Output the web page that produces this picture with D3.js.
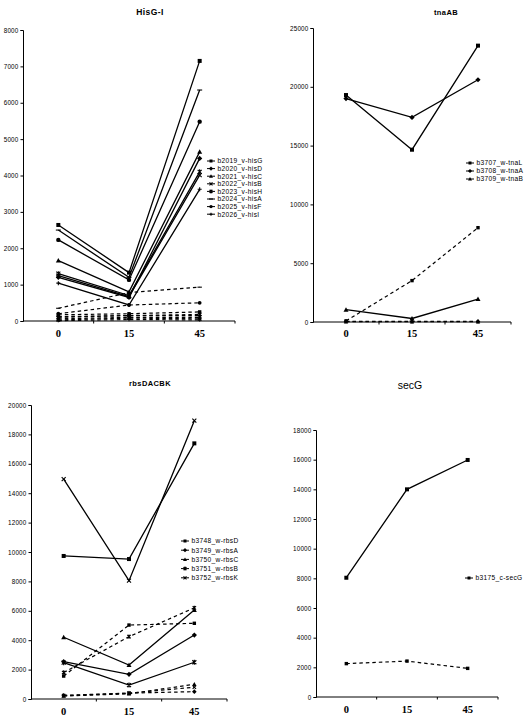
<!DOCTYPE html>
<html><head><meta charset="utf-8">
<script src="https://cdn.jsdelivr.net/npm/d3@7"></script>
<style>body{margin:0;background:#fff}svg{display:block}</style>
</head><body><svg id="c" width="526" height="716"></svg>
<script>
// ---------- DATA ----------
const timepoints = ["0", "15", "45"];

// HisG-I
const hisGenes   = ["b2019_v-hisG","b2020_v-hisD","b2021_v-hisC","b2022_v-hisB","b2023_v-hisH","b2024_v-hisA","b2025_v-hisF","b2026_v-hisI"];
const hisMarkers = ["square","diamond","triangle","x","asterisk","dash","circle","plus"];
const hisSolid   = [[2640,1330,7150],[1200,650,4470],[1660,800,4650],[1250,670,4010],[1300,700,4100],[2500,1200,6350],[2230,1130,5480],[1040,440,3620]];
const hisDashed  = [[170,200,250],[120,150,150],[60,100,100],[30,80,60],[100,150,180],[350,780,930],[200,440,500],[10,40,30]];
const hisTicks   = [0,1000,2000,3000,4000,5000,6000,7000,8000];

// tnaAB
const tnaGenes   = ["b3707_w-tnaL","b3708_w-tnaA","b3709_w-tnaB"];
const tnaMarkers = ["square","diamond","triangle"];
const tnaSolid   = [[19300,14650,23500],[19000,17400,20600],[1050,300,1950]];
const tnaDashed  = [[90,3520,8020],[60,50,50],[20,20,20]];
const tnaTicks   = [0,5000,10000,15000,20000,25000];

// rbsDACBK
const rbsGenes   = ["b3748_w-rbsD","b3749_w-rbsA","b3750_w-rbsC","b3751_w-rbsB","b3752_w-rbsK"];
const rbsMarkers = ["square","diamond","triangle","asterisk","x"];
const rbsSolid   = [[9730,9520,17390],[2540,1680,4350],[4200,2310,6050],[2470,950,2500],[14960,8050,18930]];
const rbsDashed  = [[1560,5030,5150],[250,400,500],[200,350,1000],[1800,4240,6200],[230,400,800]];
const rbsTicks   = [0,2000,4000,6000,8000,10000,12000,14000,16000,18000,20000];

// secG
const secGenes   = ["b3175_c-secG"];
const secMarkers = ["square"];
const secSolid   = [[8040,14000,15980]];
const secDashed  = [[2250,2420,1930]];
const secTicks   = [0,2000,4000,6000,8000,10000,12000,14000,16000,18000];

// ---------- DRAWING ----------
const svg = d3.select("#c");
svg.append("rect").attr("width",526).attr("height",716).attr("fill","#fff");

function drawMarker(g, type, x, y, s) {
  const h = s / 2;
  if (type === "square") {
    g.append("rect").attr("x", x-h).attr("y", y-h).attr("width", s).attr("height", s).attr("fill","#000");
  } else if (type === "diamond") {
    g.append("path").attr("d", `M${x},${y-h-0.6}L${x+h+0.6},${y}L${x},${y+h+0.6}L${x-h-0.6},${y}Z`).attr("fill","#000");
  } else if (type === "triangle") {
    g.append("path").attr("d", `M${x},${y-h-0.5}L${x+h+0.5},${y+h}L${x-h-0.5},${y+h}Z`).attr("fill","#000");
  } else if (type === "circle") {
    g.append("circle").attr("cx", x).attr("cy", y).attr("r", h+0.2).attr("fill","#000");
  } else {
    let d = "";
    if (type === "x") d = `M${x-h},${y-h}L${x+h},${y+h}M${x-h},${y+h}L${x+h},${y-h}`;
    if (type === "asterisk") d = `M${x-h},${y-h}L${x+h},${y+h}M${x-h},${y+h}L${x+h},${y-h}M${x},${y-h-0.5}L${x},${y+h+0.5}`;
    if (type === "plus") d = `M${x-h},${y}L${x+h},${y}M${x},${y-h}L${x},${y+h}`;
    if (type === "dash") d = `M${x-h-0.5},${y}L${x+h+0.5},${y}`;
    g.append("path").attr("d", d).attr("stroke","#000").attr("stroke-width",1.1).attr("fill","none");
  }
}

function drawPanel(cfg) {
  const g = svg.append("g");
  const x = d3.scaleBand().domain(timepoints).range([cfg.x0, cfg.x1]).padding(0);
  const y = d3.scaleLinear().domain([0, cfg.ticks[cfg.ticks.length-1]]).range([cfg.yBot, cfg.yTop]);
  const cx = t => x(t) + x.bandwidth()/2;

  // title
  g.append("text").attr("x", cfg.titleX).attr("y", cfg.titleY).attr("text-anchor","middle")
    .attr("font-family","'Liberation Sans', Arial, sans-serif").attr("font-weight", cfg.titleBold ? "bold" : "normal")
    .attr("font-size", cfg.titleSize).attr("letter-spacing", cfg.titleBold ? 0.4 : 0).attr("fill","#000").text(cfg.title);

  // y axis
  const yAxis = d3.axisLeft(y).tickValues(cfg.ticks).tickSize(2.5).tickPadding(2).tickFormat(d3.format("d"));
  const ya = g.append("g").attr("transform", `translate(${cfg.x0},0)`).call(yAxis);
  ya.select(".domain").attr("stroke","#000").attr("stroke-width",1);
  ya.selectAll(".tick line").attr("stroke","#000");
  ya.selectAll(".tick text").attr("font-family","'Liberation Sans', Arial, sans-serif").attr("font-size", 6.3).attr("letter-spacing", 0.2).attr("fill","#000");

  // x axis line with ticks at band boundaries
  g.append("line").attr("x1", cfg.x0).attr("x2", cfg.x1).attr("y1", cfg.yBot).attr("y2", cfg.yBot).attr("stroke","#000").attr("stroke-width",1);
  timepoints.forEach(t => {
    const bx = x(t) + x.bandwidth();
    g.append("line").attr("x1", bx).attr("x2", bx).attr("y1", cfg.yBot).attr("y2", cfg.yBot+2.5).attr("stroke","#000");
  });
  timepoints.forEach(t => {
    g.append("text").attr("x", cx(t)).attr("y", cfg.catY).attr("text-anchor","middle")
      .attr("font-family","'Liberation Serif', 'Times New Roman', serif").attr("font-weight","bold")
      .attr("font-size", 10.5).attr("fill","#000").text(t);
  });

  const line = d3.line().x((d,i) => cx(timepoints[i])).y(d => y(d));

  // dashed series
  cfg.dashed.forEach((vals, k) => {
    g.append("path").attr("d", line(vals)).attr("fill","none").attr("stroke","#000")
      .attr("stroke-width",1.2).attr("stroke-dasharray","3.5,3");
    vals.forEach((v,i) => drawMarker(g, cfg.markers[k], cx(timepoints[i]), y(v), 3.4));
  });
  // solid series
  cfg.solid.forEach((vals, k) => {
    g.append("path").attr("d", line(vals)).attr("fill","none").attr("stroke","#000").attr("stroke-width",1.3);
    vals.forEach((v,i) => drawMarker(g, cfg.markers[k], cx(timepoints[i]), y(v), 4));
  });

  // legend
  cfg.genes.forEach((name, k) => {
    const ly = cfg.legY + k * cfg.legStep;
    g.append("line").attr("x1", cfg.legX-4).attr("x2", cfg.legX+4).attr("y1", ly).attr("y2", ly).attr("stroke","#000").attr("stroke-width",1);
    drawMarker(g, cfg.markers[k], cfg.legX, ly, 3);
    g.append("text").attr("x", cfg.legX+6.5).attr("y", ly+2.3)
      .attr("font-family","'Liberation Sans', Arial, sans-serif").attr("font-size", 6.6).attr("letter-spacing", 0.35).attr("fill","#000").text(name);
  });
}

drawPanel({title:"HisG-I", titleX:150, titleY:15, titleSize:8.5, titleBold:true,
  x0:23, x1:235, yTop:30, yBot:321, catY:337, ticks:hisTicks,
  genes:hisGenes, markers:hisMarkers, solid:hisSolid, dashed:hisDashed,
  legX:211, legY:161, legStep:7.6});

drawPanel({title:"tnaAB", titleX:446, titleY:15, titleSize:7.5, titleBold:true,
  x0:313, x1:511, yTop:28, yBot:322, catY:337, ticks:tnaTicks,
  genes:tnaGenes, markers:tnaMarkers, solid:tnaSolid, dashed:tnaDashed,
  legX:470, legY:163, legStep:8});

drawPanel({title:"rbsDACBK", titleX:150, titleY:386, titleSize:7.5, titleBold:true,
  x0:31, x1:227, yTop:405, yBot:699, catY:715, ticks:rbsTicks,
  genes:rbsGenes, markers:rbsMarkers, solid:rbsSolid, dashed:rbsDashed,
  legX:185, legY:541, legStep:9.2});

drawPanel({title:"secG", titleX:410, titleY:389, titleSize:10.5, titleBold:false,
  x0:316, x1:498, yTop:430, yBot:697, catY:713, ticks:secTicks,
  genes:secGenes, markers:secMarkers, solid:secSolid, dashed:secDashed,
  legX:469, legY:578, legStep:8});
</script></body></html>
